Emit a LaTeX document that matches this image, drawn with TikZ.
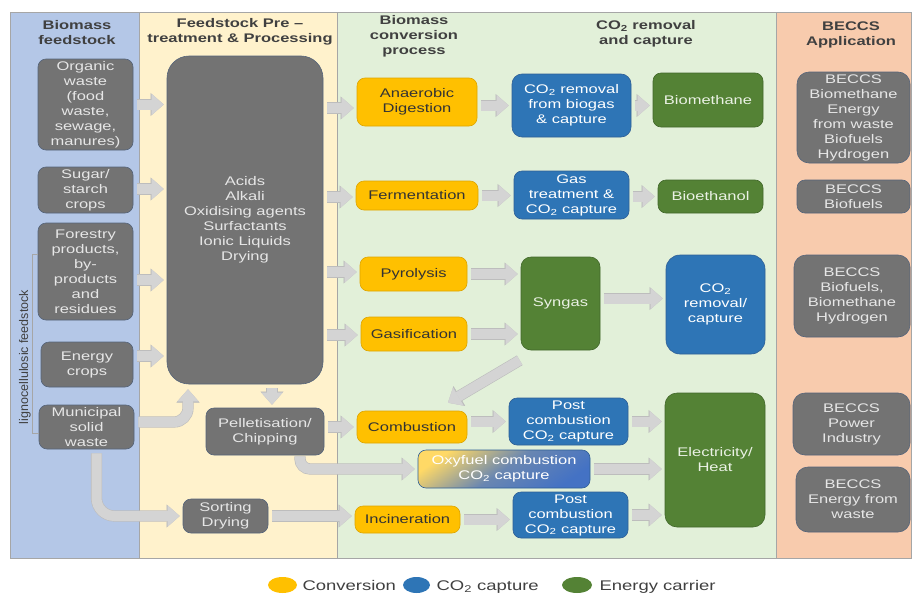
\documentclass[tikz,border=0pt]{standalone}
\usepackage{fontspec}
\setmainfont{Liberation Sans}[FakeStretch=1.32]
\newfontfamily\plainsans{Liberation Sans}
\usetikzlibrary{arrows.meta,shapes.geometric}

\definecolor{feedblue}{HTML}{B4C7E7}
\definecolor{preyellow}{HTML}{FFF2CC}
\definecolor{convgreen}{HTML}{E2F0D9}
\definecolor{apporange}{HTML}{F8CBAD}
\definecolor{framegray}{HTML}{A6A6A6}
\definecolor{headgray}{HTML}{404040}
\definecolor{boxgray}{HTML}{737373}
\definecolor{boxedge}{HTML}{55647A}
\definecolor{boxtext}{HTML}{E6E6E6}
\definecolor{convyellow}{HTML}{FFC000}
\definecolor{convedge}{HTML}{DDA500}
\definecolor{convtext}{HTML}{333333}
\definecolor{captblue}{HTML}{2E75B6}
\definecolor{captedge}{HTML}{2F5F95}
\definecolor{carriergreen}{HTML}{548235}
\definecolor{carrieredge}{HTML}{41672A}
\definecolor{carriertext}{HTML}{EAF1E4}
\definecolor{flowgray}{HTML}{D4D4D4}
\definecolor{flowedge}{HTML}{BDBDBD}
\definecolor{oxyyellow}{HTML}{FFD966}
\definecolor{oxyblue}{HTML}{4472C4}

\tikzset{
  panel/.style={draw=framegray, line width=0.8pt},
  head/.style={font=\fontsize{12.5}{15}\selectfont\bfseries, text=headgray, align=center},
  sz/.style 2 args={minimum width=#1pt, minimum height=#2pt},
  box/.style={rounded corners=8pt, align=center, inner sep=0pt, line width=0.6pt},
  feed/.style={box, fill=boxgray, draw=boxedge, text=boxtext},
  conv/.style={box, fill=convyellow, draw=convedge, text=convtext},
  capt/.style={box, fill=captblue, draw=captedge, text=white},
  carrier/.style={box, fill=carriergreen, draw=carrieredge, text=carriertext},
  flow/.style={draw=flowgray, line width=10pt,
    -{Triangle[width=21pt,length=12pt,line width=0.5pt]},
    shorten <=4pt, shorten >=3pt,
    preaction={draw=flowedge, line width=11.2pt,
      -{Triangle[width=23pt,length=13.2pt,line width=0.5pt]}}},
  key/.style={ellipse, minimum width=29pt, minimum height=16pt, inner sep=0pt},
  keytext/.style={anchor=base west, font=\fontsize{14}{16}\selectfont, text=headgray},
}

\begin{document}
\begin{tikzpicture}[x=1pt, y=-1pt, font=\fontsize{12.5}{15}\selectfont]
  \useasboundingbox (0,0) rectangle (912,597);

  % panels
  \fill[feedblue] (10,12) rectangle (139,558);
  \fill[preyellow] (139,12) rectangle (337,558);
  \fill[convgreen] (337,12) rectangle (776,558);
  \fill[apporange] (776,12) rectangle (912,558);
  \draw[panel] (10,12) rectangle (911.6,558);
  \draw[panel] (139,12) -- (139,558) (337,12) -- (337,558) (776,12) -- (776,558);

  \node[head] (hfeed) at (77,33) {Biomass\\feedstock};
  \node[head] (hpre) at (240,32) {Feedstock Pre --\\treatment \& Processing};
  \node[head] (hconv) at (414,36) {Biomass\\conversion\\process};
  \node[head] (hcapt) at (646,34) {CO\textsubscript{2} removal\\and capture};
  \node[head] (happ) at (851,35) {BECCS\\Application};

  % feedstock
  \node[feed, sz={95}{91}] (org) at (85.5,104.5) {Organic\\waste\\(food\\waste,\\sewage,\\manures)};
  \node[feed, sz={95}{46}] (sugar) at (85.5,190) {Sugar/\\starch\\crops};
  \node[feed, sz={95}{97}] (forest) at (85.5,271.5) {Forestry\\products,\\by-\\products\\and\\residues};
  \node[feed, sz={92}{45}] (energy) at (87,364.5) {Energy\\crops};
  \node[feed, sz={95}{44}] (msw) at (86.5,427) {Municipal\\solid\\waste};
  \node[rotate=90, font=\plainsans\fontsize{12.5}{15}\selectfont, text=headgray] (ligno) at (25,357) {lignocellulosic feedstock};
  \draw[framegray, line width=0.6pt] ([yshift=-32pt]forest.north west) -- ++(-5,0)
    -- ([shift={(-6pt,16pt)}]msw.south west) -- ++(6,0);

  % pre-treatment
  \node[feed, sz={156}{328}, rounded corners=22pt] (pretreat) at (245,220)
    {Acids\\Alkali\\Oxidising agents\\Surfactants\\Ionic Liquids\\Drying};
  \node[feed, sz={118}{47}] (pellet) at (265,431.5) {Pelletisation/\\Chipping};
  \node[feed, sz={85}{34}] (sort) at (225.5,516) {Sorting\\Drying};

  % conversion
  \node[conv, sz={120}{48}] (ad) at (417,102) {Anaerobic\\Digestion};
  \node[conv, sz={122}{29}] (ferm) at (417,195.5) {Fermentation};
  \node[conv, sz={107}{34}] (pyro) at (413.5,274) {Pyrolysis};
  \node[conv, sz={106}{34}] (gasif) at (414,334) {Gasification};
  \node[conv, sz={110}{32}] (comb) at (412,427) {Combustion};
  \node[conv, sz={105}{27}] (incin) at (407.5,519.5) {Incineration};

  % capture
  \node[capt, sz={119}{63}, rounded corners=10pt] (biogas) at (571.5,105.5) {CO\textsubscript{2} removal\\from biogas\\\& capture};
  \node[capt, sz={115}{48}] (gastreat) at (571.5,195) {Gas\\treatment \&\\CO\textsubscript{2} capture};
  \node[capt, sz={99}{99}, rounded corners=14pt] (rem) at (715.5,304.5) {CO\textsubscript{2}\\removal/\\capture};
  \node[capt, sz={119}{47}] (post1) at (568.5,421.5) {Post\\combustion\\CO\textsubscript{2} capture};
  \node[box, sz={172}{38}, draw=captedge, left color=oxyyellow, right color=oxyblue,
    middle color=oxyblue!80!oxyyellow, shading angle=35, text=white] (oxy) at (504,469)
    {Oxyfuel combustion\\CO\textsubscript{2} capture};
  \node[capt, sz={115}{46}] (post2) at (570.5,515) {Post\\combustion\\CO\textsubscript{2} capture};

  % energy carriers
  \node[carrier, sz={110}{54}] (biometh) at (708,100) {Biomethane};
  \node[carrier, sz={105}{33}] (bioeth) at (710.5,196.5) {Bioethanol};
  \node[carrier, sz={79}{93}, rounded corners=10pt] (syngas) at (560.5,303.5) {Syngas};
  \node[carrier, sz={100}{134}, rounded corners=12pt] (elec) at (715,460) {Electricity/\\Heat};

  % applications
  \node[feed, sz={113}{91}, rounded corners=12pt] (app1) at (853.5,117.5) {BECCS\\Biomethane\\Energy\\from waste\\Biofuels\\Hydrogen};
  \node[feed, sz={113}{33}] (app2) at (853.5,196.5) {BECCS\\Biofuels};
  \node[feed, sz={116}{82}, rounded corners=12pt] (app3) at (852,296) {BECCS\\Biofuels,\\Biomethane\\Hydrogen};
  \node[feed, sz={117}{62}, rounded corners=12pt] (app4) at (851.5,424) {BECCS\\Power\\Industry};
  \node[feed, sz={114}{65}, rounded corners=12pt] (app5) at (853,499.5) {BECCS\\Energy from\\waste};

  % arrows
  \foreach \n/\s in {org/0,sugar/1,forest/-8.5,energy/8.5}
    \draw[flow] ([yshift=\s pt]\n.east) -- ([yshift=\s pt]pretreat.west |- \n.east);
  \foreach \n/\s in {ad/-6,ferm/-1.5,pyro/2,gasif/-1}
    \draw[flow] ([yshift=\s pt]pretreat.east |- \n.west) -- ([yshift=\s pt]\n.west);
  \draw[flow, rounded corners=14pt, shorten >=5pt] ([yshift=5pt]msw.east) -| ([xshift=-57pt]pretreat.south);
  \draw[flow, rounded corners=18pt] ([xshift=10pt]msw.south) |- (sort.west);
  \draw[flow] ([xshift=7pt]pellet.north |- pretreat.south) -- ([xshift=7pt]pellet.north);
  \draw[flow] (pellet.east |- comb.west) -- (comb.west);
  \draw[flow, rounded corners=10pt, shorten <=1pt] ([xshift=35pt]pellet.south) |- (oxy.west);
  \draw[flow] (sort.east) -- (sort.east -| incin.west);
  \draw[flow] (ad.east |- biogas.west) -- (biogas.west);
  \draw[flow] (biogas.east) -- (biogas.east -| biometh.west);
  \draw[flow] (ferm.east) -- (ferm.east -| gastreat.west);
  \draw[flow] (gastreat.east |- bioeth.west) -- (bioeth.west);
  \draw[flow] (pyro.east) -- (pyro.east -| syngas.west);
  \draw[flow] (gasif.east) -- (gasif.east -| syngas.west);
  \draw[flow] ([yshift=5pt]syngas.east) -- ([yshift=5pt]syngas.east -| rem.west);
  \draw[flow, shorten <=0pt, shorten >=0pt] ([shift={(-1pt,-10pt)}]syngas.south west) -- ([shift={(36pt,8pt)}]comb.north);
  \draw[flow] (comb.east |- post1.west) -- (post1.west);
  \draw[flow] (post1.east) -- (post1.east -| elec.west);
  \draw[flow] (oxy.east) -- (oxy.east -| elec.west);
  \draw[flow] (incin.east) -- (incin.east -| post2.west);
  \draw[flow] (post2.east) -- (post2.east -| elec.west);

  % legend
  \node[key, fill=convyellow] (kconv) at (282.5,585) {};
  \node[keytext] (tconv) at (299,590) {Conversion};
  \node[key, fill=captblue, minimum width=27pt] (kcapt) at (416.5,585) {};
  \node[keytext] (tcapt) at (433,590) {CO\textsubscript{2} capture};
  \node[key, fill=carriergreen, minimum width=30pt] (kcarrier) at (577,585) {};
  \node[keytext] (tcarrier) at (596,590) {Energy carrier};
\end{tikzpicture}
\end{document}
